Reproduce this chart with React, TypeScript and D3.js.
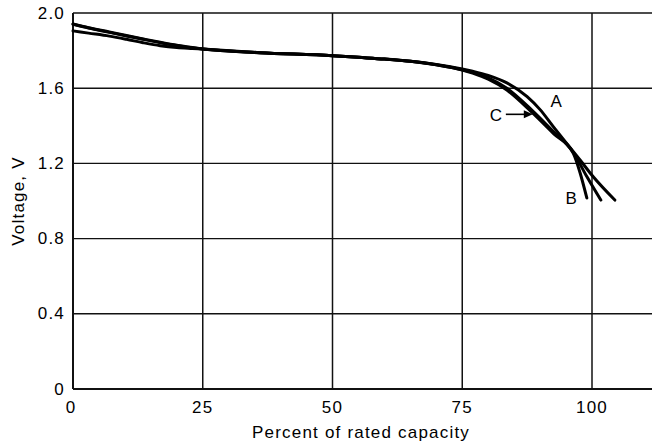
import React from "react";
import * as d3 from "d3";

const xTicks = [0, 25, 50, 75, 100];
const yTicks = [0, 0.4, 0.8, 1.2, 1.6, 2.0];
const yTickLabels = ["0", "0.4", "0.8", "1.2", "1.6", "2.0"];

const capacityA = [0, 3, 7, 10.3, 13.5, 16.8, 20, 23, 25, 36, 50, 55, 60, 65, 70, 75, 77, 80, 83.6, 87.5, 90, 92.5, 95, 97.7, 100.2, 104.4];
const voltageA = [1.942, 1.922, 1.899, 1.88, 1.862, 1.844, 1.828, 1.816, 1.809, 1.789, 1.773, 1.764, 1.755, 1.743, 1.726, 1.702, 1.69, 1.668, 1.628, 1.555, 1.486, 1.397, 1.31, 1.218, 1.13, 1.005];

const capacityB = [0, 3, 7, 10.3, 13.5, 16.8, 20, 23, 25, 36, 50, 55, 60, 65, 70, 75, 77, 80, 83.6, 88.4, 92.6, 96.4, 97.7, 99];
const voltageB = [1.905, 1.893, 1.877, 1.86, 1.842, 1.826, 1.816, 1.811, 1.808, 1.789, 1.773, 1.764, 1.755, 1.743, 1.724, 1.697, 1.68, 1.648, 1.59, 1.472, 1.358, 1.254, 1.15, 1.016];

const capacityC = [0, 3, 7, 10.3, 13.5, 16.8, 20, 23, 25, 36, 50, 55, 60, 65, 70, 75, 77, 80, 83.6, 88.4, 92.6, 96.4, 99, 101.7];
const voltageC = [1.94, 1.92, 1.897, 1.878, 1.86, 1.842, 1.827, 1.815, 1.808, 1.789, 1.773, 1.764, 1.755, 1.743, 1.725, 1.698, 1.684, 1.655, 1.6, 1.484, 1.368, 1.258, 1.13, 1.005];

const labelNames = ["A", "B", "C"];
const labelCapacity = [93.1, 96, 81.5];
const labelVoltage = [1.527, 1.014, 1.457];

const arrowFrom = [83.4, 1.461];
const arrowTo = [88.6, 1.461];

const W = 652;
const H = 445;
const FONT = "'Liberation Sans', Arial, Helvetica, sans-serif";
const FS = 17;
const LS = 1.2;

export default function App() {
  const x = d3.scaleLinear().domain([0, 100]).range([73, 592]);
  const y = d3.scaleLinear().domain([0, 2]).range([389, 13]);
  const xMaxPx = W;

  const line = d3
    .line<[number, number]>()
    .x((d) => x(d[0]))
    .y((d) => y(d[1]))
    .curve(d3.curveMonotoneX);

  const series = [
    capacityA.map((c, i) => [c, voltageA[i]] as [number, number]),
    capacityB.map((c, i) => [c, voltageB[i]] as [number, number]),
    capacityC.map((c, i) => [c, voltageC[i]] as [number, number]),
  ];

  const ax0 = x(arrowFrom[0]);
  const ax1 = x(arrowTo[0]);
  const ay = y(arrowFrom[1]);

  return (
    <svg
      width={W}
      height={H}
      style={{ position: "absolute", left: 0, top: 0, background: "#fff" }}
      fontFamily={FONT}
    >
      <rect x={0} y={0} width={W} height={H} fill="#fff" />
      {yTicks.map((t) => (
        <line
          key={"h" + t}
          x1={x(0)}
          x2={xMaxPx}
          y1={y(t)}
          y2={y(t)}
          stroke="#111"
          strokeWidth={t === 0 ? 1.8 : 1.4}
        />
      ))}
      {xTicks.map((t) => (
        <line
          key={"v" + t}
          x1={x(t)}
          x2={x(t)}
          y1={y(0)}
          y2={y(2)}
          stroke="#111"
          strokeWidth={t === 0 ? 2 : 1.5}
        />
      ))}
      {series.map((s, i) => (
        <path
          key={"s" + i}
          d={line(s) || ""}
          fill="none"
          stroke="#000"
          strokeWidth={3}
          strokeLinejoin="round"
          strokeLinecap="round"
        />
      ))}
      {yTicks.map((t, i) => (
        <text
          key={"yl" + t}
          x={65}
          y={y(t)}
          textAnchor="end"
          dominantBaseline="central"
          fontSize={FS}
          letterSpacing={LS}
          fill="#000"
        >
          {yTickLabels[i]}
        </text>
      ))}
      {xTicks.map((t) => (
        <text
          key={"xl" + t}
          x={x(t) - (t === 0 ? 2 : 0)}
          y={413}
          textAnchor="middle"
          fontSize={FS}
          letterSpacing={LS}
          fill="#000"
        >
          {t}
        </text>
      ))}
      <text x={361} y={438} textAnchor="middle" fontSize={FS} letterSpacing={LS} fill="#000">
        Percent of rated capacity
      </text>
      <text
        transform={`translate(24, ${y(1.0)}) rotate(-90)`}
        textAnchor="middle"
        fontSize={FS}
        letterSpacing={LS}
        fill="#000"
      >
        Voltage, V
      </text>
      {labelNames.map((n, i) => (
        <text
          key={"lab" + n}
          x={x(labelCapacity[i])}
          y={y(labelVoltage[i])}
          textAnchor="middle"
          dominantBaseline="central"
          fontSize={FS}
          fill="#000"
        >
          {n}
        </text>
      ))}
      <line x1={ax0} x2={ax1 - 7} y1={ay} y2={ay} stroke="#000" strokeWidth={1.6} />
      <path d={`M${ax1},${ay} L${ax1 - 9},${ay - 4} L${ax1 - 9},${ay + 4} Z`} fill="#000" />
    </svg>
  );
}
